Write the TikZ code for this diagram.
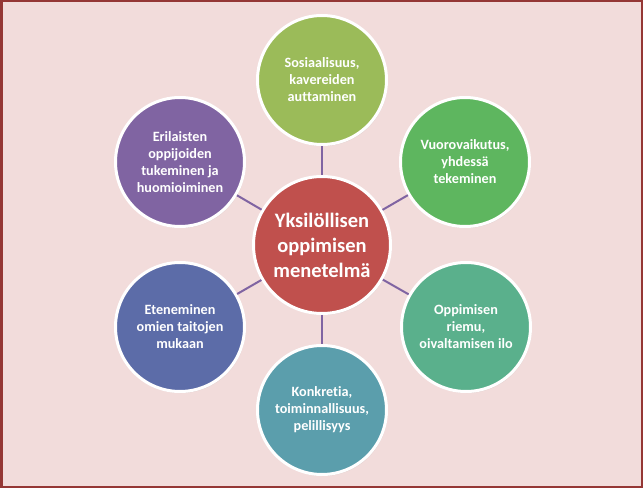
\documentclass[tikz,border=0pt]{standalone}
\usepackage{fontspec}
\setmainfont[Ligatures=NoCommon]{Carlito}
\usetikzlibrary{shadows}
\definecolor{bgpink}{RGB}{242,220,219}
\definecolor{framered}{RGB}{149,55,53}
\definecolor{cred}{RGB}{192,80,77}
\definecolor{colive}{RGB}{155,187,89}
\definecolor{cgreen}{RGB}{94,182,95}
\definecolor{cteal}{RGB}{90,176,140}
\definecolor{cblue}{RGB}{91,158,172}
\definecolor{cindigo}{RGB}{92,108,168}
\definecolor{cpurple}{RGB}{128,100,162}
\definecolor{linkpurple}{RGB}{128,100,162}
\tikzset{
  bubble/.style={circle, draw=white, line width=3pt, inner sep=0pt,
    minimum size=129pt, text=white, align=center,
    font=\fontsize{14.2}{17}\selectfont\bfseries,
    drop shadow={opacity=0.18, shadow xshift=1pt, shadow yshift=-1.5pt}},
  hub/.style={bubble, minimum size=137pt, font=\fontsize{20.5}{25}\selectfont\bfseries},
  link/.style={draw=linkpurple, line width=2pt}
}
\begin{document}
\begin{tikzpicture}[x=1pt,y=1pt]
\useasboundingbox (0,0) rectangle (643,488);
\fill[bgpink] (0,0) rectangle (643,488);
\draw[framered, line width=2.5pt] (1.25,1.25) rectangle (641.75,486.75);
\node[hub, fill=cred] (c) at (322,243) {Yksilöllisen\\oppimisen\\menetelmä};
\node[bubble, fill=colive] (n1) at (322,408) {Sosiaalisuus,\\kavereiden\\auttaminen};
\node[bubble, fill=cgreen] (n2) at (465,326) {Vuorovaikutus,\\yhdessä\\tekeminen};
\node[bubble, fill=cteal] (n3) at (466,161) {Oppimisen\\riemu,\\oivaltamisen ilo};
\node[bubble, fill=cblue] (n4) at (322,78) {Konkretia,\\toiminnallisuus,\\pelillisyys};
\node[bubble, fill=cindigo] (n5) at (180,161) {Eteneminen\\omien taitojen\\mukaan};
\node[bubble, fill=cpurple] (n6) at (180,326) {Erilaisten\\oppijoiden\\tukeminen ja\\huomioiminen};
\foreach \n in {n1,n2,n3,n4,n5,n6} {\path[link] (c) -- (\n);}
\end{tikzpicture}
\end{document}
